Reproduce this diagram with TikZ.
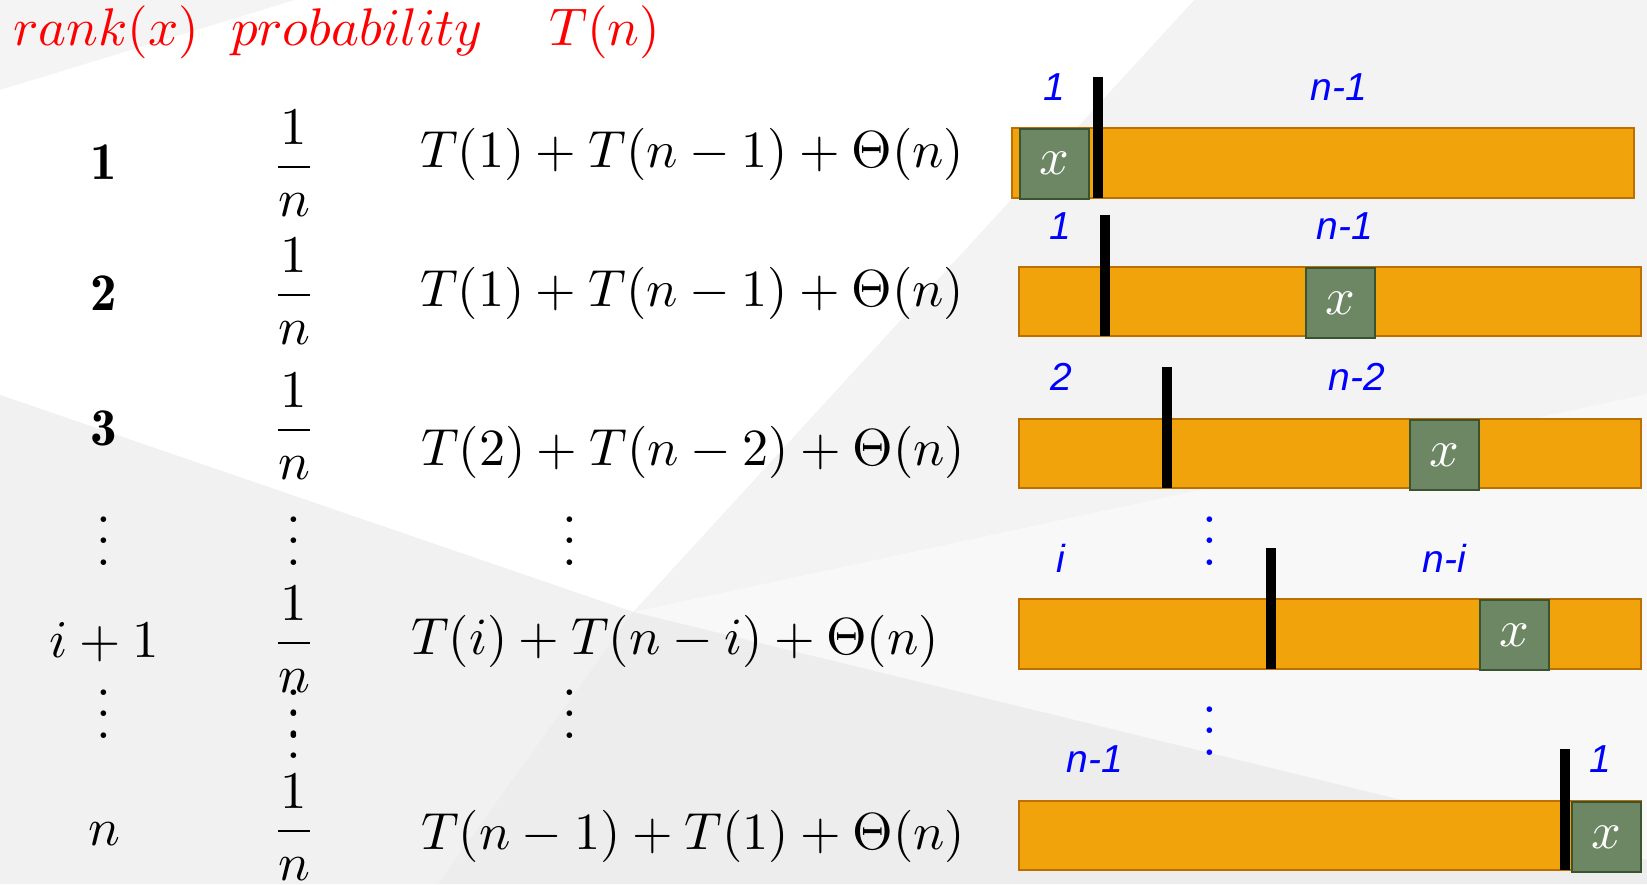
\documentclass[tikz,border=0pt]{standalone}
\usepackage{fontspec}
\newfontfamily\labfont{Liberation Sans}
\newcommand{\mysc}[1]{\scalebox{2.65}{#1}}
\newcommand{\myexp}[1]{\scalebox{2.61}{#1}}
\definecolor{headred}{HTML}{FF0000}
\definecolor{labblue}{HTML}{0000FF}
\definecolor{barfill}{HTML}{F0A30A}
\definecolor{barline}{HTML}{BD7000}
\definecolor{xfill}{HTML}{6D8764}
\definecolor{xline}{HTML}{3A5431}
\tikzset{
  txt/.style={inner sep=0pt, outer sep=0pt, anchor=base},
  expr/.style={txt, anchor=base west},
  head/.style={expr, text=headred},
  lab/.style={inner sep=0pt, outer sep=0pt, text=labblue, font=\labfont\itshape\fontsize{19.5}{23}\selectfont},
  bluedots/.style={txt, text=labblue},
  barbox/.style={draw=barline, fill=barfill, line width=1pt},
  xbox/.style={draw=xline, fill=xfill, line width=1pt, anchor=north west, inner sep=0pt,
     minimum width=34.7pt, minimum height=34.8pt, text=white},
  pivot/.style={fill=black},
}
\begin{document}
\begin{tikzpicture}[x=0.5pt,y=-0.5pt]
% background
\fill[color={rgb,255:red,243;green,243;blue,243}] (0,0) rectangle (1647,884);
\fill[color={rgb,255:red,244;green,244;blue,244}] (0,0) -- (295,0) -- (0,90) -- cycle;
\fill[white] (0,90) -- (295,0) -- (1194,0) -- (633,612) -- (0,395) -- cycle;
\fill[color={rgb,255:red,248;green,248;blue,248}] (633,612) -- (1647,394) -- (1647,860) -- cycle;
\fill[color={rgb,255:red,241;green,241;blue,241}] (0,395) -- (633,612) -- (438,884) -- (0,884) -- cycle;
\fill[color={rgb,255:red,237;green,237;blue,237}] (633,612) -- (1647,860) -- (1647,884) -- (438,884) -- cycle;
\useasboundingbox (0,0) rectangle (1647,884);

% header
\node[head] (h1) at (13,45) {\mysc{$rank(x)$}};
\node[head] (h2) at (231,45) {\mysc{$probability$}};
\node[head] (h3) at (549,45) {\mysc{$T(n)$}};

% rank column
\node[txt] (r1) at (104,179) {\mysc{$\mathbf{1}$}};
\node[txt] (r2) at (104,310) {\mysc{$\mathbf{2}$}};
\node[txt] (r3) at (104,445) {\mysc{$\mathbf{3}$}};
\node[txt] (rd1) at (104,565) {\mysc{$\vdots$}};
\node[txt] (ri) at (104,657) {\mysc{$i+1$}};
\node[txt] (rd2) at (104,738) {\mysc{$\vdots$}};
\node[txt] (rn) at (104,845) {\mysc{$n$}};

% probability column
\node[txt] (p1) at (294,180) {\mysc{$\displaystyle\frac{1}{n}$}};
\node[txt] (p2) at (294,308) {\mysc{$\displaystyle\frac{1}{n}$}};
\node[txt] (p3) at (294,443) {\mysc{$\displaystyle\frac{1}{n}$}};
\node[txt] (pd1) at (294,565) {\mysc{$\vdots$}};
\node[txt] (pi) at (294,656) {\mysc{$\displaystyle\frac{1}{n}$}};
\node[txt] (pd2) at (294,738) {\mysc{$\vdots$}};
\node[txt] (pd3) at (294,758) {\mysc{$\vdots$}};
\node[txt] (pn) at (294,844) {\mysc{$\displaystyle\frac{1}{n}$}};

% T(n) column
\node[expr] (t1) at (420,167) {\myexp{$T(1)+T(n-1)+\Theta(n)$}};
\node[expr] (t2) at (420,306) {\myexp{$T(1)+T(n-1)+\Theta(n)$}};
\node[expr] (t3) at (421,465) {\myexp{$T(2)+T(n-2)+\Theta(n)$}};
\node[txt] (td1) at (570,565) {\mysc{$\vdots$}};
\node[expr] (ti) at (411,654) {\myexp{$T(i)+T(n-i)+\Theta(n)$}};
\node[txt] (td2) at (570,738) {\mysc{$\vdots$}};
\node[expr] (tn) at (421,849) {\myexp{$T(n-1)+T(1)+\Theta(n)$}};

% bar 1
\draw[barbox] (1011.6,128) rectangle (1634,198);
\node[xbox] (x1) at (1018.6,128) {\scalebox{2.6}{$x$}};
\fill[pivot] (1093,77) rectangle (1103,198);
\node[lab] (l1a) at (1054,87) {1};
\node[lab] (l1b) at (1339,87) {n-1};

% bar 2
\draw[barbox] (1018.6,267) rectangle (1641,336);
\node[xbox] (x2) at (1305,267) {\scalebox{2.6}{$x$}};
\fill[pivot] (1100,215) rectangle (1110,336);
\node[lab] (l2a) at (1060,226) {1};
\node[lab] (l2b) at (1345,226) {n-1};

% bar 3
\draw[barbox] (1018.6,419) rectangle (1641,488);
\node[xbox] (x3) at (1409,419) {\scalebox{2.6}{$x$}};
\fill[pivot] (1162,367) rectangle (1172,488);
\node[lab] (l3a) at (1061,377) {2};
\node[lab] (l3b) at (1357,377) {n-2};

\node[bluedots] (bd1) at (1209.5,565) {\mysc{$\vdots$}};

% bar 4
\draw[barbox] (1018.6,599) rectangle (1641,669);
\node[xbox] (x4) at (1478.5,599) {\scalebox{2.6}{$x$}};
\fill[pivot] (1266,548) rectangle (1276,669);
\node[lab] (l4a) at (1061,558) {i};
\node[lab] (l4b) at (1444,558) {n-i};

\node[bluedots] (bd2) at (1209.5,755) {\mysc{$\vdots$}};

% bar 5
\draw[barbox] (1018.6,801) rectangle (1641,870);
\node[xbox] (x5) at (1571,801) {\scalebox{2.6}{$x$}};
\fill[pivot] (1560,749) rectangle (1570,870);
\node[lab] (l5a) at (1095,759) {n-1};
\node[lab] (l5b) at (1600,759) {1};
\end{tikzpicture}
\end{document}
